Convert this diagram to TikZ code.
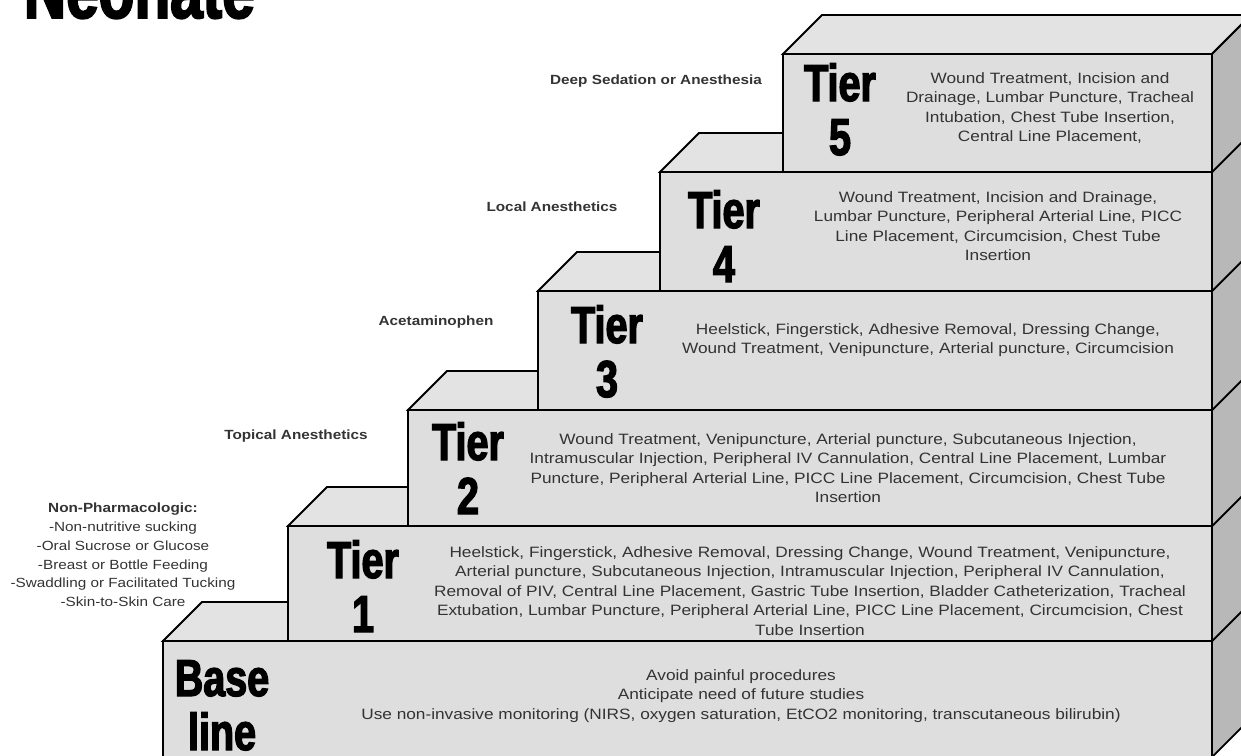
\documentclass[tikz,border=0pt]{standalone}
\usepackage{fontspec}
\setmainfont{Liberation Sans}
\newfontfamily\bodyfont[FakeStretch=1.15]{Liberation Sans}
\newfontfamily\tierfont[BoldFeatures={FakeStretch=0.76,FakeBold=2.5}]{Liberation Sans}
\definecolor{frontgray}{gray}{0.87}
\definecolor{topgray}{gray}{0.89}
\definecolor{sidegray}{gray}{0.72}
\definecolor{textgray}{gray}{0.2}
\tikzset{
  tier/.style={font=\tierfont\bfseries\fontsize{52}{54}\selectfont, align=center, anchor=base, inner sep=0pt},
  list/.style={font=\bodyfont\fontsize{15}{19.5}\selectfont, align=center, text=textgray, inner sep=0pt},
  aside/.style={font=\bodyfont\fontsize{13.3}{18.8}\selectfont, align=center, text=textgray, inner sep=0pt},
  drug/.style={aside, font=\bodyfont\bfseries\fontsize{13.3}{18.8}\selectfont}
}

\begin{document}
\begin{tikzpicture}[x=1pt, y=-1pt, line width=1.8pt]
	\useasboundingbox (0,0) rectangle (1241,755);
	\clip (0,0) rectangle (1241,755);
	% steps, from the bottom up
	\foreach \x/\t/\b in {163/641/757, 288/526/641, 408/410/526, 538/291/410, 660/172/291, 783/54/172} {
		\filldraw[fill=topgray] (\x,\t) -- (\x+39,\t-39) -- (1251,\t-39) -- (1212,\t) -- cycle;
		\filldraw[fill=sidegray] (1212,\t) -- (1251,\t-39) -- (1251,\b-39) -- (1212,\b) -- cycle;
		\filldraw[fill=frontgray] (\x,\t) rectangle (1212,\b);
	}
	\node[font=\tierfont\bfseries\fontsize{77}{77}\selectfont, anchor=base west, inner sep=0pt] (title) at (23,18) {Neonate};
	% tier labels (anchored on the number line)
	\node[tier] (base) at (222,750) {Base\\line};
	\node[tier] (t1) at (363,632) {Tier\\1};
	\node[tier] (t2) at (468,514) {Tier\\2};
	\node[tier] (t3) at (607,397) {Tier\\3};
	\node[tier] (t4) at (724,282) {Tier\\4};
	\node[tier] (t5) at (840,155) {Tier\\5};
	% procedures
	\node[list] (base-list) at (741,696) {Avoid painful procedures\\Anticipate need of future studies\\Use non-invasive monitoring (NIRS, oxygen saturation, EtCO2 monitoring, transcutaneous bilirubin)};
	\node[list] (t1-list) at (810,591) {Heelstick, Fingerstick, Adhesive Removal, Dressing Change, Wound Treatment, Venipuncture,\\Arterial puncture, Subcutaneous Injection, Intramuscular Injection, Peripheral IV Cannulation,\\Removal of PIV, Central Line Placement, Gastric Tube Insertion, Bladder Catheterization, Tracheal\\Extubation, Lumbar Puncture, Peripheral Arterial Line, PICC Line Placement, Circumcision, Chest\\Tube Insertion};
	\node[list] (t2-list) at (848,468) {Wound Treatment, Venipuncture, Arterial puncture, Subcutaneous Injection,\\Intramuscular Injection, Peripheral IV Cannulation, Central Line Placement, Lumbar\\Puncture, Peripheral Arterial Line, PICC Line Placement, Circumcision, Chest Tube\\Insertion};
	\node[list] (t3-list) at (928,340) {Heelstick, Fingerstick, Adhesive Removal, Dressing Change,\\Wound Treatment, Venipuncture, Arterial puncture, Circumcision};
	\node[list] (t4-list) at (998,226) {Wound Treatment, Incision and Drainage,\\Lumbar Puncture, Peripheral Arterial Line, PICC\\Line Placement, Circumcision, Chest Tube\\Insertion};
	\node[list] (t5-list) at (1050,108) {Wound Treatment, Incision and\\Drainage, Lumbar Puncture, Tracheal\\Intubation, Chest Tube Insertion,\\Central Line Placement,};
	% analgesia for each tier
	\node[aside] (nonpharm) at (123,555) {\textbf{Non-Pharmacologic:}\\-Non-nutritive sucking\\-Oral Sucrose or Glucose\\-Breast or Bottle Feeding\\-Swaddling or Facilitated Tucking\\-Skin-to-Skin Care};
	\node[drug] (topical) at (296,436) {Topical Anesthetics};
	\node[drug] (acetaminophen) at (436,322) {Acetaminophen};
	\node[drug] (local) at (552,207) {Local Anesthetics};
	\node[drug] (sedation) at (656,81) {Deep Sedation or Anesthesia};
\end{tikzpicture}
\end{document}
